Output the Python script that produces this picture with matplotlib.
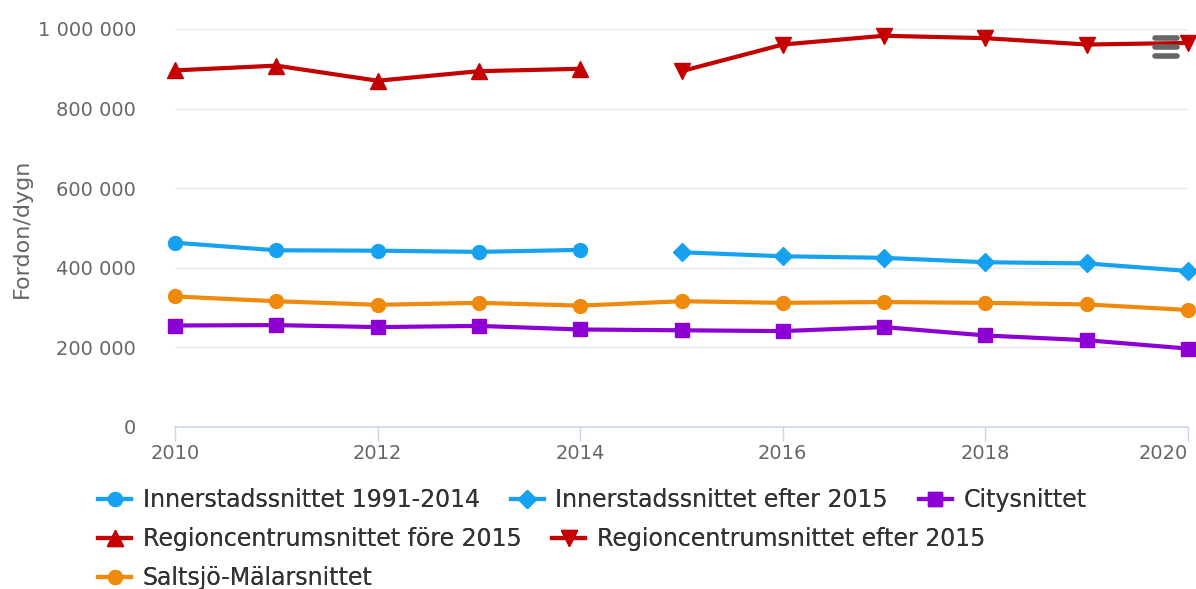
import numpy as np
import matplotlib
matplotlib.use('Agg')
import matplotlib.pyplot as plt
from matplotlib.lines import Line2D
from matplotlib.ticker import FuncFormatter

##-------------------data-------------------
years_before = [2010, 2011, 2012, 2013, 2014]
years_after = [2015, 2016, 2017, 2018, 2019, 2020]
years_all = years_before + years_after

inner_before = [463000, 444000, 443000, 440000, 445000]
inner_after = [439000, 429000, 425000, 414000, 411000, 392000]
city = [255000, 256000, 251000, 254000, 245000, 243000, 241000, 251000, 230000, 218000, 197000]
region_before = [896000, 908000, 870000, 894000, 900000]
region_after = [894000, 961000, 983000, 977000, 961000, 965000]
saltsjo = [328000, 316000, 307000, 312000, 305000, 316000, 312000, 314000, 312000, 308000, 294000]

labels = ['Innerstadssnittet 1991-2014', 'Innerstadssnittet efter 2015', 'Citysnittet',
          'Regioncentrumsnittet före 2015', 'Regioncentrumsnittet efter 2015',
          'Saltsjö-Mälarsnittet']

blue = '#16a2f0'
purple = '#8c00d4'
red = '#c40000'
orange = '#ef8a0c'
grey = '#666666'

fig = plt.figure(figsize=(11.96, 5.89), dpi=100)
ax = fig.add_axes([175/1196., 1-427/589., (1188-175)/1196., (427-29)/589.])

lw = 3
ms = 10
h1, = ax.plot(years_before, inner_before, '-o', color=blue, lw=lw, ms=ms, clip_on=False, label=labels[0])
h2, = ax.plot(years_after, inner_after, '-D', color=blue, lw=lw, ms=ms-1, clip_on=False, label=labels[1])
h3, = ax.plot(years_all, city, '-s', color=purple, lw=lw, ms=ms, clip_on=False, label=labels[2])
h4, = ax.plot(years_before, region_before, '-^', color=red, lw=lw, ms=ms+2, clip_on=False, label=labels[3])
h5, = ax.plot(years_after, region_after, '-v', color=red, lw=lw, ms=ms+2, clip_on=False, label=labels[4])
h6, = ax.plot(years_all, saltsjo, '-o', color=orange, lw=lw, ms=ms, clip_on=False, label=labels[5])

ax.set_xlim(2010, 2020)
ax.set_ylim(0, 1000000)
ax.set_xticks([2010, 2012, 2014, 2016, 2018, 2020])
ax.set_yticks([0, 200000, 400000, 600000, 800000, 1000000])
ax.yaxis.set_major_formatter(FuncFormatter(lambda v, p: '{:,}'.format(int(v)).replace(',', ' ')))

ax.grid(axis='y', color='#e6e6e6', lw=1)
ax.set_axisbelow(True)
for s in ['top', 'right', 'left']:
    ax.spines[s].set_visible(False)
ax.spines['bottom'].set_color('#ccd6eb')
ax.spines['bottom'].set_linewidth(1.2)
ax.tick_params(axis='y', length=0, pad=28, labelsize=14, labelcolor=grey)
ax.tick_params(axis='x', length=10, width=1, color='#ccd6eb', labelsize=14, labelcolor=grey, pad=2)
# last year label is pushed inside like the original
ax.get_xticklabels()[-1].set_horizontalalignment('right')
fig.text(22/1196., 1-228/589., 'Fordon/dygn', rotation=90, ha='center', va='center',
         fontsize=16, color=grey)

##-------------legend rows, flowing like the original----------------
rows = [([h1, h2, h3], 500), ([h4, h5], 539), ([h6], 578)]
for hs, ypix in rows:
    leg = fig.legend(handles=hs, loc='center left', bbox_to_anchor=(98/1196., 1-ypix/589.),
                     ncol=len(hs), frameon=False, fontsize=17, handlelength=1.4,
                     handletextpad=0.5, columnspacing=1.3, borderpad=0, borderaxespad=0)
    for t in leg.get_texts():
        t.set_color('#333333')
    fig.add_artist(leg)

##-------------menu icon top right----------------
for yy in [38, 47, 56]:
    fig.add_artist(Line2D([1155/1196., 1177/1196.], [1-yy/589., 1-yy/589.], color=grey,
                          lw=4, solid_capstyle='round'))

fig.savefig('out.png', dpi=100)
